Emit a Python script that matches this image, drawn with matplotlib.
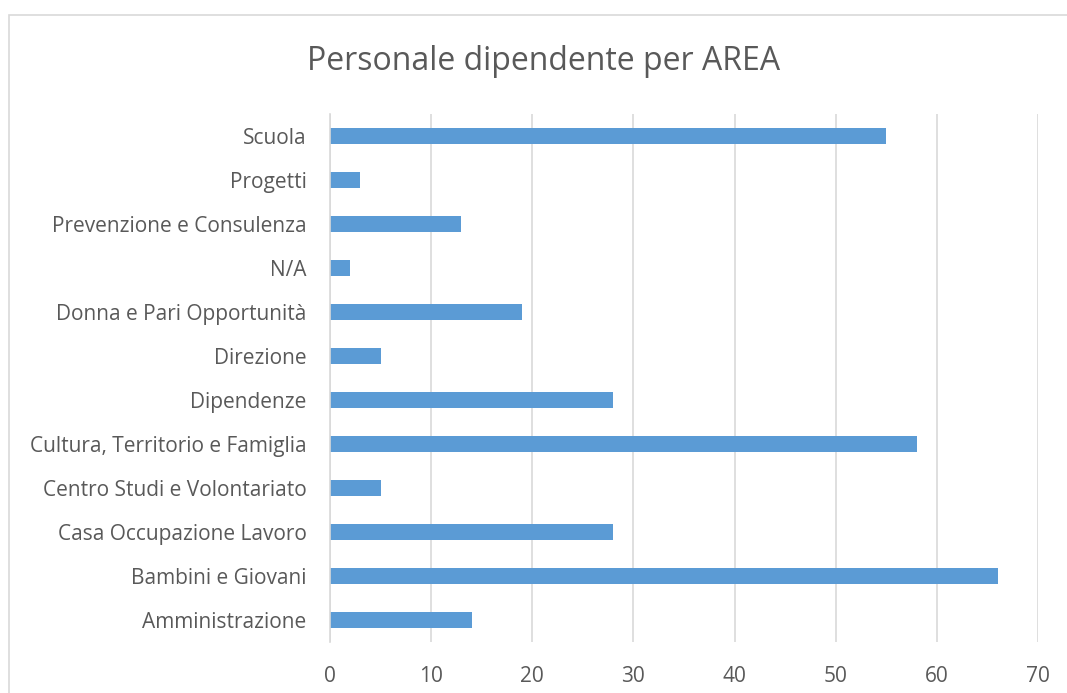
import matplotlib
matplotlib.use("Agg")
from matplotlib import pyplot as plt
from matplotlib.patches import Rectangle

categories = ["Amministrazione", "Bambini e Giovani", "Casa Occupazione Lavoro",
              "Centro Studi e Volontariato", "Cultura, Territorio e Famiglia",
              "Dipendenze", "Direzione", "Donna e Pari Opportunità", "N/A",
              "Prevenzione e Consulenza", "Progetti", "Scuola"]
values = [14, 66, 28, 5, 58, 28, 5, 19, 2, 13, 3, 55]
xticks = [0, 10, 20, 30, 40, 50, 60, 70]

W, H = 1067, 693
plt.rcParams['font.family'] = ['Open Sans', 'DejaVu Sans']
fig = plt.figure(figsize=(W / 100, H / 100), dpi=100)

# chart border (cut off at right and bottom like the screenshot)
fig.patches.append(Rectangle((9 / W, -0.05), 1.1, 1 - 15 / H + 0.05,
                             transform=fig.transFigure, fill=False,
                             edgecolor='#D9D9D9', linewidth=1.2))

ax = fig.add_axes([330 / W, 1 - 642 / H, (1038 - 330) / W, (642 - 114) / H])
ax.barh(range(len(categories)), values, height=0.36, color='#5B9BD5')
ax.set_ylim(-0.5, len(categories) - 0.5)
ax.set_xlim(0, 70)
ax.set_xticks(xticks)
ax.set_yticks(range(len(categories)))
ax.set_yticklabels(categories)
ax.grid(axis='x', color='#D9D9D9', linewidth=1.2)
ax.set_axisbelow(True)
for s in ['top', 'right', 'bottom']:
    ax.spines[s].set_visible(False)
ax.spines['left'].set_color('#D9D9D9')
ax.spines['left'].set_linewidth(1.2)
ax.tick_params(length=0, colors='#595959', labelsize=15)
ax.tick_params(axis='x', pad=17)
ax.tick_params(axis='y', pad=17)

fig.text(543.5 / W, 1 - 62 / H, "Personale dipendente per AREA", ha='center', va='center',
         fontsize=23, color='#595959')

fig.savefig("out.png", dpi=100)
